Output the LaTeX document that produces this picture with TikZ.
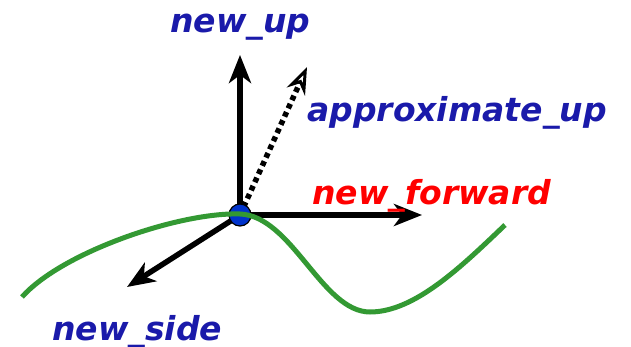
\documentclass[tikz,border=0pt]{standalone}
\usepackage{fontspec}
\setmainfont{DejaVu Sans}
\usetikzlibrary{arrows.meta}
\definecolor{lblblue}{RGB}{26,26,170}
\definecolor{lblred}{RGB}{255,0,0}
\definecolor{curvegreen}{RGB}{51,153,51}
\definecolor{dotblue}{RGB}{0,51,204}
\begin{document}
\begin{tikzpicture}[x=1pt,y=-1pt,
  vec/.style={line width=5.5pt,-{Stealth[length=28pt,width=22pt,inset=8pt]}},
  lbl/.style={anchor=base west,inner sep=0pt,font=\fontsize{33}{39}\selectfont\bfseries\itshape},
]
\useasboundingbox (0,0) rectangle (631,347);
\coordinate (c) at (240,215);
\coordinate (upTip) at (240,55);
\coordinate (apTip) at (307,67);
\coordinate (fwTip) at (422,215);
\coordinate (sdTip) at (127,287);
\draw[vec] (c) -- (upTip);
\draw[vec] (c) -- (fwTip);
\draw[vec] (c) -- (sdTip);
\draw[line width=5.5pt,dash pattern=on 5pt off 4pt,-{Stealth[open,length=27pt,width=20pt,inset=9pt,line width=3pt]}] (c) -- (apTip);
\node[circle,fill=dotblue,draw=black,line width=1.2pt,minimum size=22pt,inner sep=0pt] (dot) at (c) {};
\draw[curvegreen,line width=5pt] (22,297) .. controls (62,252) and (180,212) .. (240,214)
  .. controls (292,216) and (322,312) .. (370,312)
  .. controls (415,312) and (462,266) .. (505,225);
\node[lbl,text=lblblue] (nup) at (170,33) {new\_up};
\node[lbl,text=lblblue] (nap) at (307,122) {approximate\_up};
\node[lbl,text=lblred] (nfw) at (312,205) {new\_forward};
\node[lbl,text=lblblue] (nsd) at (52,340) {new\_side};
\end{tikzpicture}
\end{document}
